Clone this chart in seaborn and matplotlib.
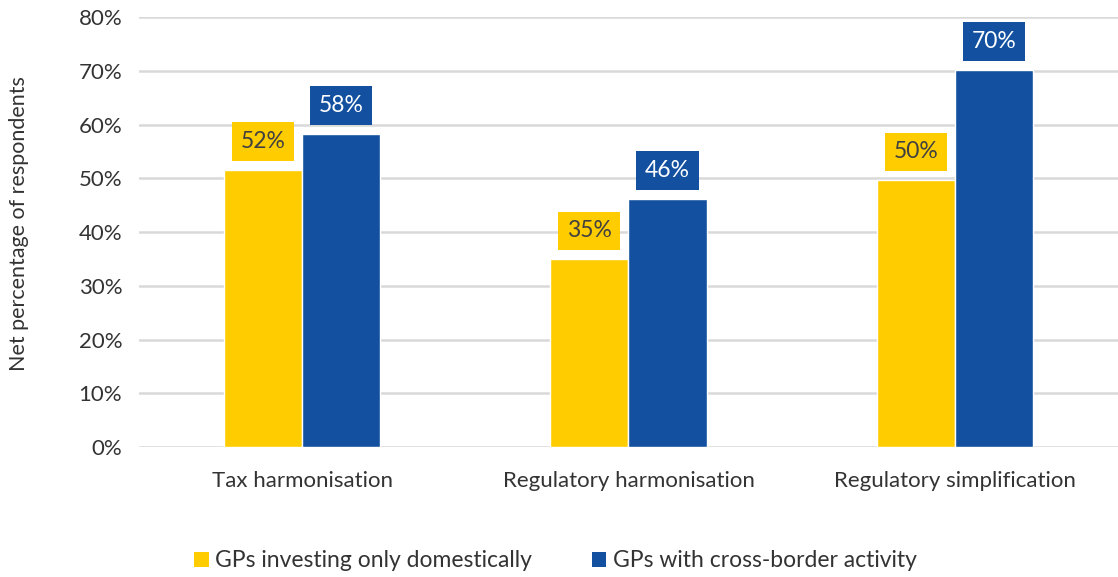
import matplotlib
matplotlib.use("Agg")
import matplotlib.pyplot as plt
from matplotlib.patches import Patch
import seaborn as sns
import pandas as pd

categories = ["Tax harmonisation", "Regulatory harmonisation", "Regulatory simplification"]
series_names = ["GPs investing only domestically", "GPs with cross-border activity"]
domestic = [51.5, 34.9, 49.6]
cross_border = [58.2, 46.1, 70.1]
y_ticks = [0, 10, 20, 30, 40, 50, 60, 70, 80]

colors = ["#FFCC00", "#1351A0"]
label_text_colors = ["#404040", "#FFFFFF"]
text_color = "#333333"

sns.set_theme(style="white")
plt.rcParams["font.family"] = ["Lato", "DejaVu Sans"]

df = pd.DataFrame({
    "category": categories * 2,
    "series": [series_names[0]] * len(categories) + [series_names[1]] * len(categories),
    "value": domestic + cross_border,
})

fig = plt.figure(figsize=(11.18, 5.77), dpi=100)
ax = fig.add_axes([0.1243, 0.2253, 0.8757, 0.7452])

sns.barplot(data=df, x="category", y="value", hue="series", order=categories,
            hue_order=series_names, palette=colors, width=0.48, saturation=1,
            ax=ax, legend=False, errorbar=None)

ax.set_ylim(0, 80)
ax.set_xlim(-0.5, 2.5)
ax.set_yticks(y_ticks)
ax.set_yticklabels([f"{t}%" for t in y_ticks])
ax.yaxis.grid(True, color="#D9D9D9", linewidth=1.8)
ax.set_axisbelow(True)
for s in ax.spines.values():
    s.set_visible(False)
ax.tick_params(axis="both", length=0, labelsize=16, colors=text_color)
ax.tick_params(axis="x", pad=17)
ax.tick_params(axis="y", pad=12)
ax.set_xlabel("")
ax.set_ylabel("Net percentage of respondents", fontsize=15.5, color=text_color)
ax.yaxis.set_label_coords(-0.112, 0.52)

# value labels in filled boxes above each bar
for container, fc, tc in zip(ax.containers, colors, label_text_colors):
    for bar in container:
        h = bar.get_height()
        ax.annotate(f"{h:.0f}%", xy=(bar.get_x() + bar.get_width() / 2, h),
                    xytext=(0, 13), textcoords="offset points",
                    ha="center", va="bottom", fontsize=16.5, color=tc,
                    bbox=dict(boxstyle="square,pad=0.38", fc=fc, ec="none"))

handles = [Patch(facecolor=c, edgecolor="none") for c in colors]
fig.legend(handles, series_names, loc="lower center", bbox_to_anchor=(0.497, -0.026),
           ncol=2, frameon=False, fontsize=16.5, handlelength=0.62, handleheight=0.62,
           handletextpad=0.3, columnspacing=2.6, labelcolor=text_color)

fig.savefig("out.png", dpi=100)
